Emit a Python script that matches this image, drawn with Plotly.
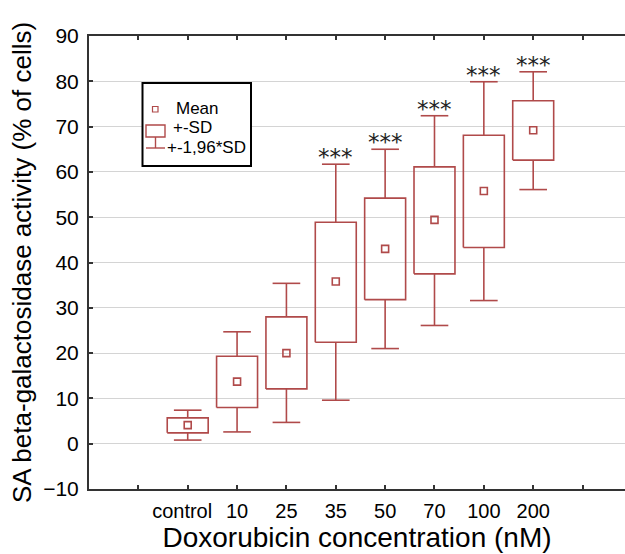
import plotly.graph_objects as go

# ---- data ----
categories = ["control", "10", "25", "35", "50", "70", "100", "200"]
means   = [4.1, 13.7, 20.0, 35.8, 43.0, 49.4, 55.8, 69.2]
sd_low  = [2.4, 8.0, 12.1, 22.4, 31.8, 37.5, 43.3, 62.6]
sd_high = [5.7, 19.3, 28.0, 48.9, 54.2, 61.1, 68.1, 75.7]
ci_low  = [0.8, 2.6, 4.7, 9.6, 21.0, 26.1, 31.6, 56.1]
ci_high = [7.4, 24.7, 35.4, 61.7, 65.0, 72.4, 79.9, 82.1]
signif  = ["", "", "", "***", "***", "***", "***", "***"]

COLOR = "#b04a4a"
BOX_W = 0.83
CAP_W = 0.56
FONT = "Liberation Sans, Arial, sans-serif"

W, H = 625, 554
ML, MR, MT, MB = 89, 0, 36, 65
PW, PH = W - ML - MR, H - MT - MB

xpos = list(range(1, len(categories) + 1))

fig = go.Figure()

# SD boxes
bx, by = [], []
for x, lo, hi in zip(xpos, sd_low, sd_high):
    bx += [x - BOX_W / 2, x + BOX_W / 2, x + BOX_W / 2, x - BOX_W / 2, x - BOX_W / 2, None]
    by += [lo, lo, hi, hi, lo, None]
fig.add_trace(go.Scatter(x=bx, y=by, mode="lines", line=dict(color=COLOR, width=1.6),
                         hoverinfo="skip", showlegend=False))

# 1.96*SD whiskers
wx, wy = [], []
for x, lo, hi, blo, bhi in zip(xpos, ci_low, ci_high, sd_low, sd_high):
    wx += [x, x, None, x, x, None,
           x - CAP_W / 2, x + CAP_W / 2, None, x - CAP_W / 2, x + CAP_W / 2, None]
    wy += [bhi, hi, None, blo, lo, None, hi, hi, None, lo, lo, None]
fig.add_trace(go.Scatter(x=wx, y=wy, mode="lines", line=dict(color=COLOR, width=1.6),
                         hoverinfo="skip", showlegend=False))

# means
fig.add_trace(go.Scatter(x=xpos, y=means, mode="markers",
                         marker=dict(symbol="square-open", size=7, color=COLOR,
                                     line=dict(color=COLOR, width=1.6)),
                         showlegend=False))

# significance stars
for x, hi, s in zip(xpos, ci_high, signif):
    if s:
        fig.add_annotation(x=x, y=hi, text=s, showarrow=False, xanchor="center",
                           yanchor="middle", yshift=7,
                           font=dict(family="DejaVu Sans", size=23, color="#222"))

# ---- hand-drawn key (like the original) ----
def px(xp):
    return (xp - ML) / PW

def py(yp):
    return (H - MB - yp) / PH

shapes = []
shapes.append(dict(type="rect", xref="paper", yref="paper", x0=px(142.5), x1=px(251),
                   y0=py(166), y1=py(83), line=dict(color="black", width=2),
                   fillcolor="white", layer="above"))
shapes.append(dict(type="rect", xref="paper", yref="paper", x0=px(152.5), x1=px(158),
                   y0=py(112), y1=py(106.5), line=dict(color=COLOR, width=1.2), layer="above"))
shapes.append(dict(type="rect", xref="paper", yref="paper", x0=px(146), x1=px(165),
                   y0=py(137), y1=py(125), line=dict(color=COLOR, width=1.4), layer="above"))
shapes.append(dict(type="line", xref="paper", yref="paper", x0=px(155.5), x1=px(155.5),
                   y0=py(148), y1=py(137), line=dict(color=COLOR, width=1.4), layer="above"))
shapes.append(dict(type="line", xref="paper", yref="paper", x0=px(146), x1=px(165),
                   y0=py(148), y1=py(148), line=dict(color=COLOR, width=1.4), layer="above"))
for t, xl, yc in [("Mean", 174, 108), ("+-SD", 171, 127), ("+-1,96*SD", 165, 147)]:
    fig.add_annotation(xref="paper", yref="paper", x=px(xl), y=py(yc), text=t,
                       showarrow=False, xanchor="left", yanchor="middle",
                       font=dict(family=FONT, size=17, color="black"))

NB = "\u00a0"
ticktext = [""] + [categories[0] + NB * 2] + categories[1:] + [""]

fig.update_layout(
    width=W, height=H,
    margin=dict(l=ML, r=MR, t=MT, b=MB),
    paper_bgcolor="white", plot_bgcolor="white",
    shapes=shapes,
    font=dict(family=FONT, color="black"),
    xaxis=dict(range=[-1, 9.86], tickmode="array",
               tickvals=list(range(0, 10)),
               ticktext=ticktext, tickangle=0, automargin=False,
               ticks="inside", ticklen=4, tickcolor="#333", tickwidth=1.5,
               showline=True, linecolor="#333", linewidth=2, mirror="ticks",
               showgrid=False, zeroline=False,
               tickfont=dict(size=20, family=FONT, color="black"),
               ticklabelstandoff=3,
               title=dict(text="Doxorubicin concentration (nM)",
                          font=dict(size=28, family=FONT, color="black"), standoff=2)),
    yaxis=dict(range=[-10, 90], tick0=-10, dtick=10, automargin=False,
               ticks="inside", ticklen=4, tickcolor="#333", tickwidth=1.5,
               showline=True, linecolor="#333", linewidth=2, mirror=False,
               showgrid=True, gridcolor="#d4d4d4", gridwidth=1, zeroline=False,
               tickfont=dict(size=21, family=FONT, color="black"),
               ticklabelstandoff=4,
               title=dict(text="SA beta-galactosidase activity (% of cells)",
                          font=dict(size=26, family=FONT, color="black"), standoff=4)),
)

fig.write_html("out.html")
